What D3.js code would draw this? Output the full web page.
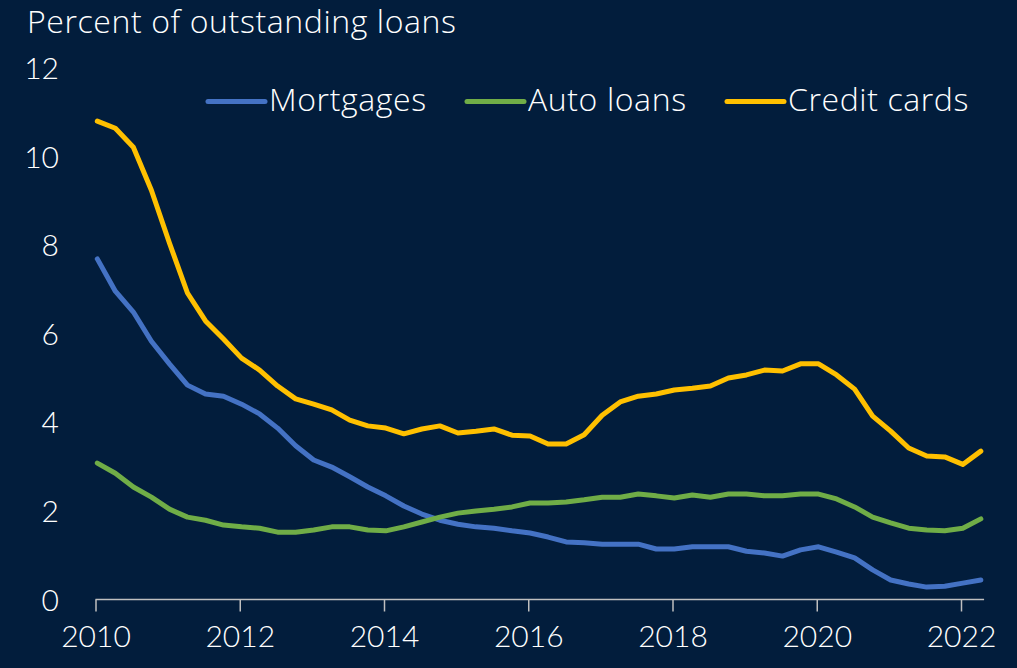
<!DOCTYPE html>
<meta charset="utf-8">
<style>

body {
  margin: 0;
  background: #021d3c;
}

svg {
  display: block;
}

text {
  font-family: 'Lato', sans-serif;
  font-weight: 300;
  fill: #ffffff;
}

.tick-label {
  font-size: 30px;
}

.title, .legend {
  font-family: 'Open Sans', sans-serif;
  font-size: 32px;
  font-weight: 300;
  letter-spacing: 0.6px;
}

path.series {
  fill: none;
  stroke-width: 5px;
  stroke-linejoin: round;
  stroke-linecap: round;
}

</style>
<body>
<div id='chart'></div>
<script src="https://cdn.jsdelivr.net/npm/d3@7"></script>
<script>

var quarters = [
  '2010Q1','2010Q2','2010Q3','2010Q4','2011Q1','2011Q2','2011Q3','2011Q4',
  '2012Q1','2012Q2','2012Q3','2012Q4','2013Q1','2013Q2','2013Q3','2013Q4',
  '2014Q1','2014Q2','2014Q3','2014Q4','2015Q1','2015Q2','2015Q3','2015Q4',
  '2016Q1','2016Q2','2016Q3','2016Q4','2017Q1','2017Q2','2017Q3','2017Q4',
  '2018Q1','2018Q2','2018Q3','2018Q4','2019Q1','2019Q2','2019Q3','2019Q4',
  '2020Q1','2020Q2','2020Q3','2020Q4','2021Q1','2021Q2','2021Q3','2021Q4',
  '2022Q1','2022Q2'
]

var mortgages = [
  7.69, 6.96, 6.49, 5.83, 5.32, 4.84, 4.64, 4.59, 4.41, 4.19,
  3.87, 3.47, 3.15, 2.99, 2.77, 2.54, 2.34, 2.11, 1.93, 1.79,
  1.70, 1.64, 1.61, 1.55, 1.50, 1.41, 1.30, 1.28, 1.25, 1.25,
  1.25, 1.14, 1.14, 1.19, 1.19, 1.19, 1.09, 1.05, 0.98, 1.12,
  1.19, 1.07, 0.94, 0.67, 0.44, 0.35, 0.28, 0.30, 0.37, 0.44
]

var autoLoans = [
  3.08, 2.85, 2.54, 2.31, 2.04, 1.86, 1.79, 1.68, 1.64, 1.61,
  1.52, 1.52, 1.57, 1.64, 1.64, 1.57, 1.55, 1.64, 1.75, 1.86,
  1.95, 2.00, 2.04, 2.09, 2.18, 2.18, 2.20, 2.25, 2.31, 2.31,
  2.38, 2.34, 2.29, 2.36, 2.31, 2.38, 2.38, 2.34, 2.34, 2.38,
  2.38, 2.27, 2.09, 1.86, 1.73, 1.61, 1.57, 1.55, 1.61, 1.82
]

var creditCards = [
  10.80, 10.64, 10.21, 9.24, 8.05, 6.92, 6.29, 5.88, 5.45, 5.18,
  4.82, 4.53, 4.41, 4.28, 4.05, 3.92, 3.87, 3.74, 3.85, 3.92,
  3.76, 3.80, 3.85, 3.71, 3.69, 3.51, 3.51, 3.72, 4.16, 4.46,
  4.59, 4.64, 4.73, 4.77, 4.82, 5.00, 5.07, 5.18, 5.16, 5.32,
  5.32, 5.07, 4.75, 4.14, 3.80, 3.42, 3.24, 3.22, 3.05, 3.35
]

var seriesNames = ['Mortgages', 'Auto loans', 'Credit cards']
var seriesColors = ['#4472c4', '#70ad47', '#ffc000']
var xTicks = [2010, 2012, 2014, 2016, 2018, 2020, 2022]
var yTicks = [0, 2, 4, 6, 8, 10, 12]

var width = 1017, height = 668

var svg = d3.select('#chart')
            .append('svg')
            .attr('width', width)
            .attr('height', height)

svg.append('rect')
   .attr('width', width)
   .attr('height', height)
   .attr('fill', '#021d3c')

function toYear(q)
{
  return +q.slice(0, 4) + (+q.slice(5) - 1) / 4
}

var x = d3.scaleLinear()
          .domain([2010, 2022])
          .range([95.5, 961])

var y = d3.scaleLinear()
          .domain([0, 12])
          .range([599.5, 68])

var xOffset = 0.025

// x axis
var xAxis = d3.axisBottom(x)
              .tickValues(xTicks)
              .tickFormat(d3.format('d'))
              .tickSize(12)
              .tickPadding(14)

var gx = svg.append('g')
   .attr('transform', 'translate(0,' + y(0) + ')')
   .call(xAxis)

gx.select('.domain')
  .attr('d', 'M' + x(2010) + ',0H' + x(2022.32))
gx.selectAll('line, path')
  .attr('stroke', '#bfbfbf')
  .attr('stroke-width', 1.5)
gx.selectAll('text')
  .attr('class', 'tick-label')
  .attr('fill', '#ffffff')
  .style('font-family', 'Lato, sans-serif')
  .style('font-size', '30px')
  .style('font-weight', 300)

// y labels
svg.selectAll('.ylab')
   .data(yTicks)
   .enter()
   .append('text')
   .attr('class', 'tick-label')
   .attr('x', 59)
   .attr('y', function(d){ return y(d) + 11 })
   .attr('text-anchor', 'end')
   .text(function(d){ return d })

svg.append('text')
   .attr('class', 'title')
   .attr('x', 27)
   .attr('y', 33)
   .text('Percent of outstanding loans')

var line = d3.line()
  .x(function(d, i){ return x(toYear(quarters[i]) + xOffset) })
  .y(function(d){ return y(d) })

var allSeries = [mortgages, autoLoans, creditCards]

svg.selectAll('path.series')
   .data(allSeries)
   .enter()
   .append('path')
   .attr('class', 'series')
   .attr('stroke', function(d, i){ return seriesColors[i] })
   .attr('d', line)

// legend
var legendX = [208, 467, 727]

for (var i = 0; i < seriesNames.length; i++)
{
  svg.append('line')
     .attr('x1', legendX[i])
     .attr('x2', legendX[i] + 57)
     .attr('y1', 101.5)
     .attr('y2', 101.5)
     .attr('stroke', seriesColors[i])
     .attr('stroke-width', 5)
     .attr('stroke-linecap', 'round')

  svg.append('text')
     .attr('class', 'legend')
     .attr('x', legendX[i] + 61)
     .attr('y', 111)
     .text(seriesNames[i])
}

</script>
</body>
